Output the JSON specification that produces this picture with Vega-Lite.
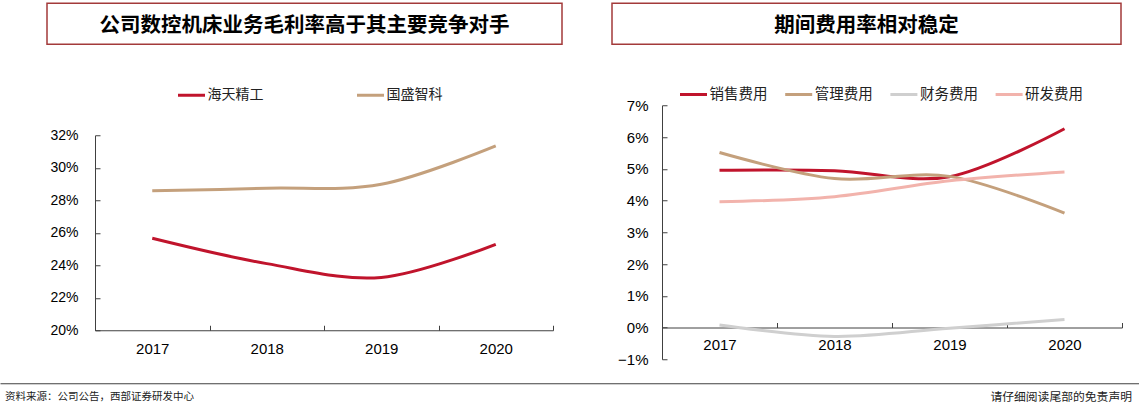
{
  "$schema": "https://vega.github.io/schema/vega-lite/v6.json",
  "padding": {"left": 5, "top": 2.25, "right": 0, "bottom": 0},
  "background": "white",
  "spacing": 16,
  "resolve": {"scale": {"color": "independent", "x": "independent", "y": "independent"}, "legend": {"color": "independent"}, "axis": {"x": "independent", "y": "independent"}},
  "config": {
    "view": {"stroke": null},
    "font": "Liberation Sans",
    "axis": {"domainColor": "#404040", "tickColor": "#404040", "labelColor": "#000000", "labelFont": "Liberation Sans", "grid": false, "title": null}
  },
  "vconcat": [
    {
      "spacing": 48,
      "resolve": {"scale": {"color": "independent", "x": "independent", "y": "independent"}, "legend": {"color": "independent"}, "axis": {"x": "independent", "y": "independent"}},
      "hconcat": [
        {
          "spacing": 35,
          "resolve": {"scale": {"color": "independent", "x": "independent", "y": "independent"}, "legend": {"color": "independent"}, "axis": {"x": "independent", "y": "independent"}},
          "vconcat": [
            {
              "width": 515, "height": 41,
              "view": {"stroke": "#a33a3a", "strokeWidth": 1.5},
              "data": {"values": [{"heading": "公司数控机床业务毛利率高于其主要竞争对手"}]},
              "mark": {"type": "text", "font": "Noto Sans CJK SC", "fontWeight": "bold", "fontSize": 20.5, "color": "#000000", "dy": 2},
              "encoding": {"text": {"field": "heading"}}
            },
            {
              "width": 506, "height": 195,
              "data": {"values": [
                {"year": "2017", "company": "海天精工", "margin": 0.2566},
                {"year": "2018", "company": "海天精工", "margin": 0.2410},
                {"year": "2019", "company": "海天精工", "margin": 0.2325},
                {"year": "2020", "company": "海天精工", "margin": 0.2529},
                {"year": "2017", "company": "国盛智科", "margin": 0.2858},
                {"year": "2018", "company": "国盛智科", "margin": 0.2874},
                {"year": "2019", "company": "国盛智科", "margin": 0.2898},
                {"year": "2020", "company": "国盛智科", "margin": 0.3134}
              ]},
              "mark": {"type": "line", "interpolate": "cardinal", "tension": 0, "strokeWidth": 3},
              "encoding": {
                "x": {"field": "year", "type": "ordinal", "bandPosition": 0.5,
                  "scale": {"type": "band", "paddingInner": 0, "paddingOuter": 0, "range": [48, 506]},
                  "axis": {"tickBand": "extent", "labelAngle": 0, "labelFontSize": 15, "labelPadding": 16, "tickSize": -5}},
                "y": {"field": "margin", "type": "quantitative",
                  "scale": {"domain": [0.2, 0.32], "nice": false, "zero": false},
                  "axis": {"values": [0.2, 0.22, 0.24, 0.26, 0.28, 0.3, 0.32], "format": ".0%", "labelFontSize": 14, "labelPadding": 22, "tickSize": -5, "offset": -48}},
                "color": {"field": "company", "type": "nominal",
                  "scale": {"domain": ["海天精工", "国盛智科"], "range": ["#C0142C", "#C4A07C"]},
                  "legend": {"title": null, "orient": "none", "direction": "horizontal", "legendX": 129.5, "legendY": -55, "padding": 0,
                    "symbolType": "stroke", "symbolSize": 729, "symbolStrokeWidth": 3, "labelOffset": 1, "columnPadding": 87,
                    "labelFont": "Noto Sans CJK SC", "labelFontSize": 14, "labelColor": "#222222"}}
              }
            }
          ]
        },
        {
          "spacing": 34,
          "resolve": {"scale": {"color": "independent", "x": "independent", "y": "independent"}, "legend": {"color": "independent"}, "axis": {"x": "independent", "y": "independent"}},
          "vconcat": [
            {
              "width": 509, "height": 41,
              "view": {"stroke": "#a33a3a", "strokeWidth": 1.5},
              "data": {"values": [{"heading": "期间费用率相对稳定"}]},
              "mark": {"type": "text", "font": "Noto Sans CJK SC", "fontWeight": "bold", "fontSize": 20.5, "color": "#000000", "dy": 2},
              "encoding": {"text": {"field": "heading"}}
            },
            {
              "width": 510, "height": 254,
              "data": {"values": [
                {"year": "2017", "item": "销售费用", "ratio": 0.0495},
                {"year": "2018", "item": "销售费用", "ratio": 0.0494},
                {"year": "2019", "item": "销售费用", "ratio": 0.0475},
                {"year": "2020", "item": "销售费用", "ratio": 0.0626},
                {"year": "2017", "item": "管理费用", "ratio": 0.0551},
                {"year": "2018", "item": "管理费用", "ratio": 0.0469},
                {"year": "2019", "item": "管理费用", "ratio": 0.0476},
                {"year": "2020", "item": "管理费用", "ratio": 0.0360},
                {"year": "2017", "item": "财务费用", "ratio": 0.0008},
                {"year": "2018", "item": "财务费用", "ratio": -0.0028},
                {"year": "2019", "item": "财务费用", "ratio": -0.0002},
                {"year": "2020", "item": "财务费用", "ratio": 0.0025},
                {"year": "2017", "item": "研发费用", "ratio": 0.0396},
                {"year": "2018", "item": "研发费用", "ratio": 0.0412},
                {"year": "2019", "item": "研发费用", "ratio": 0.0462},
                {"year": "2020", "item": "研发费用", "ratio": 0.0490}
              ]},
              "mark": {"type": "line", "interpolate": "cardinal", "tension": 0, "strokeWidth": 3},
              "encoding": {
                "x": {"field": "year", "type": "ordinal", "bandPosition": 0.5,
                  "scale": {"type": "band", "paddingInner": 0, "paddingOuter": 0, "range": [50, 510]},
                  "axis": {"tickBand": "extent", "labelAngle": 0, "labelFontSize": 15, "labelPadding": 15, "tickSize": -5, "offset": -31.75}},
                "y": {"field": "ratio", "type": "quantitative",
                  "scale": {"domain": [-0.01, 0.07], "nice": false, "zero": false},
                  "axis": {"values": [-0.01, 0, 0.01, 0.02, 0.03, 0.04, 0.05, 0.06, 0.07], "format": ".0%", "labelFontSize": 15, "labelPadding": 19, "tickSize": -5, "offset": -50}},
                "color": {"field": "item", "type": "nominal",
                  "scale": {"domain": ["销售费用", "管理费用", "财务费用", "研发费用"], "range": ["#C0142C", "#C4A07C", "#CFCFCF", "#F2B3AC"]},
                  "legend": {"title": null, "orient": "none", "direction": "horizontal", "legendX": 66.5, "legendY": -26, "padding": 0,
                    "symbolType": "stroke", "symbolSize": 729, "symbolStrokeWidth": 3, "labelOffset": 1, "columnPadding": 11.2,
                    "labelFont": "Noto Sans CJK SC", "labelFontSize": 14.5, "labelColor": "#222222"}}
              }
            }
          ]
        }
      ]
    },
    {
      "width": 1092, "height": 24,
      "data": {"values": [
        {"side": "source", "note": "资料来源：公司公告，西部证券研发中心"},
        {"side": "disclaimer", "note": "请仔细阅读尾部的免责声明"}
      ]},
      "layer": [
        {
          "transform": [{"filter": "datum.side === 'source'"}],
          "mark": {"type": "text", "align": "left", "dx": 5, "dy": 2, "font": "Noto Sans CJK SC", "fontSize": 10.5, "color": "#222222"},
          "encoding": {
            "x": {"field": "side", "type": "nominal", "bandPosition": 0,
              "scale": {"type": "band", "domain": ["source", "disclaimer"], "range": [-47, 1092], "paddingInner": 0, "paddingOuter": 0},
              "axis": {"orient": "top", "labels": false, "ticks": false, "domain": true, "domainColor": "#404040", "domainWidth": 1}},
            "text": {"field": "note"}
          }
        },
        {
          "transform": [{"filter": "datum.side === 'disclaimer'"}],
          "mark": {"type": "text", "align": "right", "dx": -7, "dy": 2, "font": "Noto Sans CJK SC", "fontSize": 11.8, "color": "#222222"},
          "encoding": {
            "x": {"field": "side", "type": "nominal", "bandPosition": 1,
              "scale": {"type": "band", "domain": ["source", "disclaimer"], "range": [-47, 1092], "paddingInner": 0, "paddingOuter": 0},
              "axis": {"orient": "top", "labels": false, "ticks": false, "domain": true, "domainColor": "#404040", "domainWidth": 1}},
            "text": {"field": "note"}
          }
        }
      ]
    }
  ]
}
